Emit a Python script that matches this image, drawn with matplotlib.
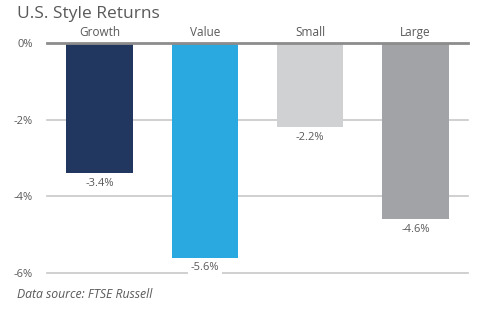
import matplotlib
matplotlib.use("Agg")
import matplotlib.pyplot as plt

categories = ["Growth", "Value", "Small", "Large"]
returns = [-3.4, -5.6, -2.2, -4.6]
colors = ["#21375f", "#29a9df", "#d0d1d3", "#a2a3a6"]
yticks = [0, -2, -4, -6]
ytick_labels = ["0%", "-2%", "-4%", "-6%"]

plt.rcParams["font.family"] = ["Open Sans", "DejaVu Sans"]
text_grey = "#595959"

fig = plt.figure(figsize=(5.0, 3.26), dpi=100)
ax = fig.add_axes([0.094, 1 - 273 / 326, 0.842, (273 - 43) / 326])
ax.set_xlim(-0.5, len(categories) - 0.5)
ax.set_ylim(-6, 0)

# gridlines
for t in yticks[1:]:
    ax.axhline(t, color="#c8c8c8", lw=1.2, zorder=0, clip_on=False)
ax.axhline(0, color="#8c8c8c", lw=2.0, zorder=3, clip_on=False)

x = range(len(categories))
ax.bar(x, returns, width=0.63, color=colors, zorder=2)

for i, (c, v) in enumerate(zip(categories, returns)):
    ax.text(i, 0.1, c, ha="center", va="bottom", fontsize=8.5, color=text_grey)
    ax.text(i, v - 0.12, f"{v:.1f}%", ha="center", va="top", fontsize=8,
            color=text_grey, zorder=4,
            bbox=dict(boxstyle="square,pad=0.25", fc="white", ec="none"))

ax.set_yticks(yticks)
ax.set_yticklabels(ytick_labels, fontsize=8, color=text_grey)
ax.tick_params(axis="y", length=0, pad=10)
ax.set_xticks([])
for s in ax.spines.values():
    s.set_visible(False)

fig.text(17 / 500, 1 - 14 / 326, "U.S. Style Returns", fontsize=12.5,
         color=text_grey, va="center", ha="left")
fig.text(17 / 500, 1 - 295 / 326, "Data source: FTSE Russell", fontsize=8.8,
         color=text_grey, va="center", ha="left", style="italic")

fig.savefig("out.png", dpi=100)
